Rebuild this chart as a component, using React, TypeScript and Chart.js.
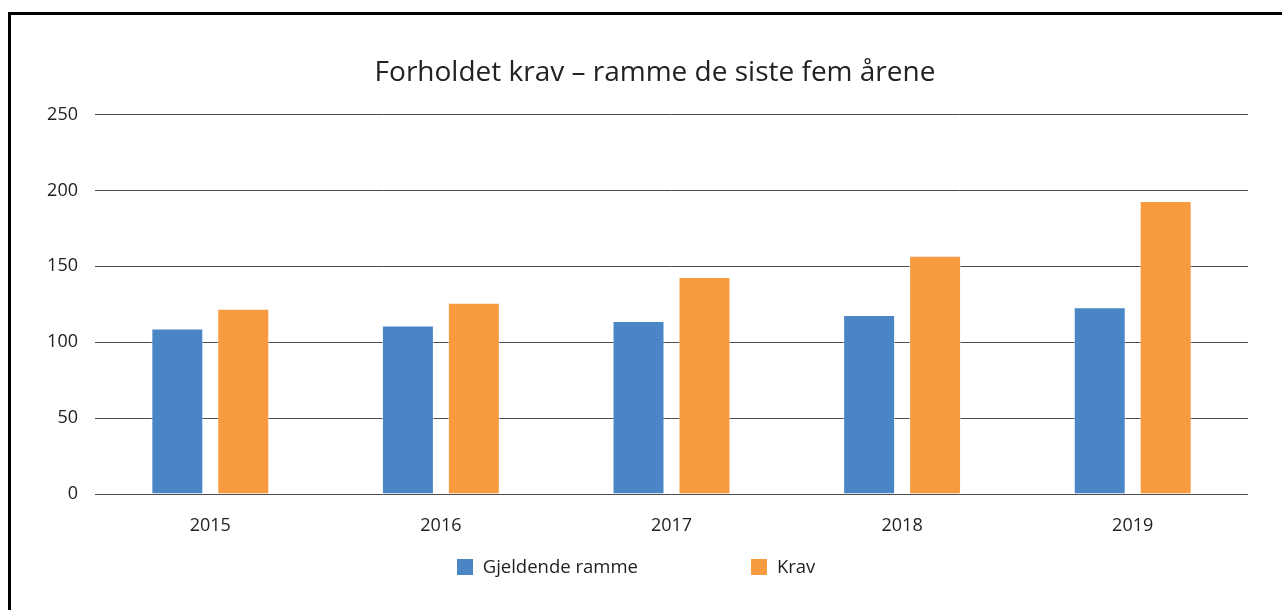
import React, { useEffect, useRef } from "react";
import { Chart, registerables } from "chart.js";

Chart.register(...registerables);

const categories = ["2015", "2016", "2017", "2018", "2019"];
const gjeldendeRamme = [109, 111, 114, 118, 123];
const krav = [122, 126, 143, 157, 193];
const yTickValues = [0, 50, 100, 150, 200, 250];
const seriesLabels = ["Gjeldende ramme", "Krav"];
const titleText = "Forholdet krav – ramme de siste fem årene";

const FONT = '"Open Sans", "Noto Sans", sans-serif';

const legendPlugin = {
  id: "customLegend",
  afterDraw(chart: any) {
    const ctx = chart.ctx;
    const { left, right, bottom } = chart.chartArea;
    ctx.save();
    ctx.font = `18.5px ${FONT}`;
    const items = chart.data.datasets.map((d: any) => ({ label: d.label, color: d.backgroundColor }));
    const box = 16;
    const gapText = 10;
    const gapItem = 113;
    const widths = items.map((it: any) => box + gapText + ctx.measureText(it.label).width);
    const total = widths.reduce((a: number, b: number) => a + b, 0) + gapItem * (items.length - 1);
    let x = (left + right) / 2 - 35.5 - total / 2;
    const y = bottom + 73;
    items.forEach((it: any, i: number) => {
      ctx.fillStyle = it.color;
      ctx.fillRect(Math.round(x), Math.round(y - box / 2), box, box);
      ctx.fillStyle = "#222";
      ctx.textBaseline = "middle";
      ctx.textAlign = "left";
      ctx.fillText(it.label, x + box + gapText, y + 1);
      x += widths[i] + gapItem;
    });
    ctx.restore();
  },
};

export default function App() {
  const canvasRef = useRef<HTMLCanvasElement | null>(null);

  useEffect(() => {
    if (!canvasRef.current) return;
    Chart.defaults.font.family = FONT;
    const chart = new Chart(canvasRef.current, {
      type: "bar",
      data: {
        labels: categories,
        datasets: [
          {
            label: seriesLabels[0],
            data: gjeldendeRamme,
            backgroundColor: "#4A86C5",
            borderColor: "rgba(255,255,255,0.45)",
            borderWidth: 1,
            categoryPercentage: 0.572,
            barPercentage: 0.788,
          },
          {
            label: seriesLabels[1],
            data: krav,
            backgroundColor: "#F89B40",
            borderColor: "rgba(255,255,255,0.45)",
            borderWidth: 1,
            categoryPercentage: 0.572,
            barPercentage: 0.788,
          },
        ],
      },
      options: {
        animation: false,
        responsive: true,
        maintainAspectRatio: false,
        layout: { padding: { left: 30, right: 13, top: 30, bottom: 56 } },
        plugins: {
          legend: { display: false },
          tooltip: { enabled: false },
          title: {
            display: true,
            text: titleText,
            color: "#222",
            font: { size: 28, weight: "normal", family: FONT },
            padding: { top: 11, bottom: 25 },
          },
        },
        scales: {
          x: {
            grid: { display: false, drawTicks: false },
            border: { display: false },
            ticks: { color: "#222", font: { size: 18 }, padding: 21 },
            afterFit(scale: any) {
              scale.height = 60;
            },
          },
          y: {
            min: yTickValues[0],
            max: yTickValues[yTickValues.length - 1],
            afterBuildTicks(scale: any) {
              scale.ticks = yTickValues.map((v) => ({ value: v }));
            },
            grid: { color: "#4d4d4d", lineWidth: 1, drawTicks: false },
            border: { display: false },
            ticks: { color: "#222", font: { size: 18 }, padding: 17 },
            afterFit(scale: any) {
              scale.width = 54;
            },
          },
          yRightSpace: {
            position: "right",
            display: true,
            grid: { display: false, drawTicks: false },
            border: { display: false },
            ticks: { display: false },
            afterFit(scale: any) {
              scale.width = 21;
            },
          },
        },
      },
      plugins: [legendPlugin],
    });
    return () => chart.destroy();
  }, []);

  return (
    <div
      style={{
        position: "fixed",
        left: 8,
        top: 12,
        width: 1300,
        height: 620,
        border: "3px solid #000",
        boxSizing: "border-box",
        background: "#fff",
      }}
    >
      <div style={{ position: "absolute", left: 0, top: 0, width: 1271, height: 595 }}>
        <canvas ref={canvasRef} />
      </div>
    </div>
  );
}
